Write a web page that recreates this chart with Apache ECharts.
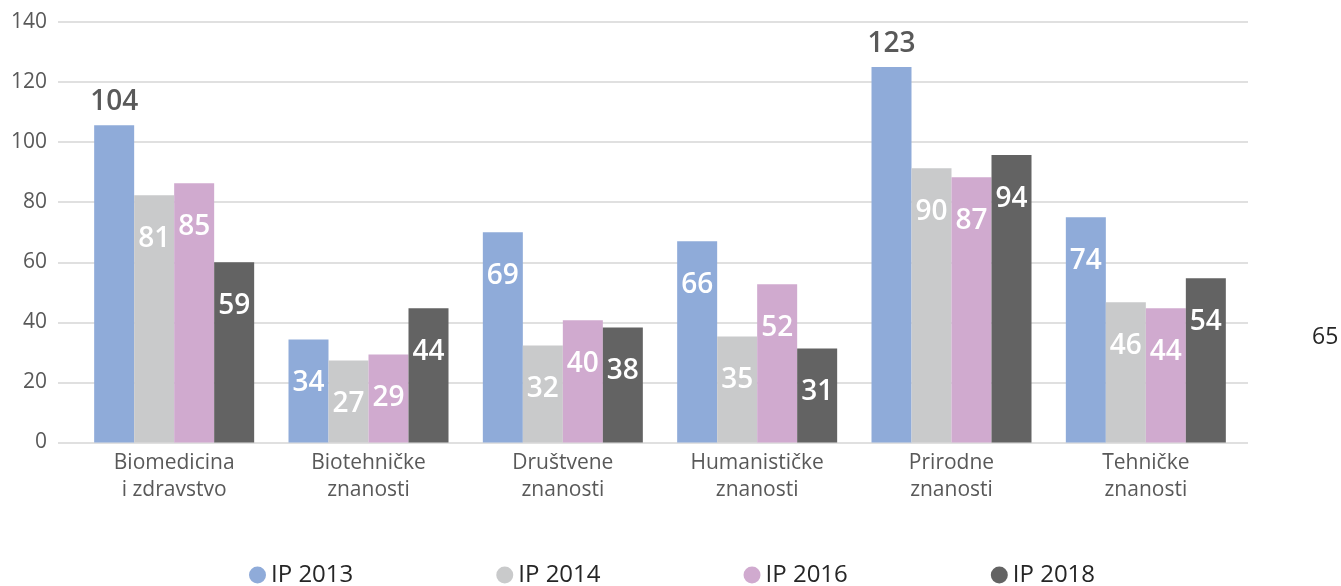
<!DOCTYPE html>
<html>
<head>
<meta charset="utf-8">
<script src="https://cdn.jsdelivr.net/npm/echarts@6/dist/echarts.min.js"></script>
<style>
  html, body { margin: 0; padding: 0; background: #fff; }
  #main { width: 1341px; height: 586px; }
</style>
</head>
<body>
<div id="main"></div>
<script>
// categories and series names
const categories = [
  'Biomedicina\ni zdravstvo',
  'Biotehničke\nznanosti',
  'Društvene\nznanosti',
  'Humanističke\nznanosti',
  'Prirodne\nznanosti',
  'Tehničke\nznanosti'
]
const seriesNames = ['IP 2013', 'IP 2014', 'IP 2016', 'IP 2018']

// bar heights as drawn
const ip2013 = [105.6, 34.3, 70, 67, 125, 75]
const ip2014 = [82.3, 27.3, 32.3, 35.3, 91.3, 46.7]
const ip2016 = [86.3, 29.3, 40.7, 52.7, 88.3, 44.7]
const ip2018 = [60, 44.7, 38.3, 31.3, 95.7, 54.7]

// printed labels
const lbl2013 = [104, 34, 69, 66, 123, 74]
const lbl2014 = [81, 27, 32, 35, 90, 46]
const lbl2016 = [85, 29, 40, 52, 87, 44]
const lbl2018 = [59, 44, 38, 31, 94, 54]

const yTicks = [0, 20, 40, 60, 80, 100, 120, 140]

const colors = ['#8fabd9', '#c9cacb', '#d0aacf', '#636363']
const font = '"Open Sans", "Noto Sans", sans-serif'

const allValues = [ip2013, ip2014, ip2016, ip2018]
const allLabels = [lbl2013, lbl2014, lbl2016, lbl2018]

function makeSeries(i) {
  return {
    name: seriesNames[i],
    type: 'bar',
    xAxisIndex: 1,
    yAxisIndex: 1,
    barWidth: 40,
    barGap: '0%',
    itemStyle: { color: colors[i] },
    data: allValues[i].map((v, k) => {
      const above = v > 100
      return {
        value: v,
        label: {
          show: true,
          position: above ? 'top' : 'insideTop',
          distance: above ? 9 : 30,
          color: above ? '#595959' : '#ffffff',
          fontFamily: font,
          fontSize: 28,
          fontWeight: 600,
          formatter: () => String(allLabels[i][k])
        }
      }
    })
  }
}

const chart = echarts.init(document.getElementById('main'))
chart.setOption({
  animation: false,
  backgroundColor: '#ffffff',
  textStyle: { fontFamily: font },
  grid: [
    { left: 58, right: 93, top: 22, bottom: 143.5 },
    { left: 77, right: 98, top: 22, bottom: 143.5 }
  ],
  legend: {
    data: seriesNames,
    left: 244,
    top: 558,
    icon: 'circle',
    itemWidth: 17,
    itemHeight: 17,
    itemGap: 143,
    textStyle: { color: '#262626', fontSize: 24, fontFamily: font }
  },
  xAxis: [
    { type: 'category', gridIndex: 0, data: categories, show: false },
    {
      type: 'category',
      gridIndex: 1,
      data: categories,
      axisLine: { show: false },
      axisTick: { show: false },
      axisLabel: {
        color: '#595959',
        fontSize: 21,
        lineHeight: 27,
        margin: 7,
        fontFamily: font
      }
    }
  ],
  yAxis: [
    {
      type: 'value',
      gridIndex: 0,
      min: yTicks[0],
      max: yTicks[yTicks.length - 1],
      interval: 20,
      axisLine: { show: false },
      axisTick: { show: false },
      axisLabel: { color: '#595959', fontSize: 21, margin: 11, fontFamily: font },
      splitLine: { lineStyle: { color: '#e0e0e0', width: 2 } }
    },
    {
      type: 'value',
      gridIndex: 1,
      min: yTicks[0],
      max: yTicks[yTicks.length - 1],
      interval: 20,
      show: false,
      splitLine: { show: false }
    }
  ],
  graphic: [
    {
      type: 'text',
      left: 1312,
      top: 326,
      style: { text: '65', fontSize: 23, fill: '#262626', fontFamily: font }
    }
  ],
  series: [0, 1, 2, 3].map(makeSeries)
})
</script>
</body>
</html>
